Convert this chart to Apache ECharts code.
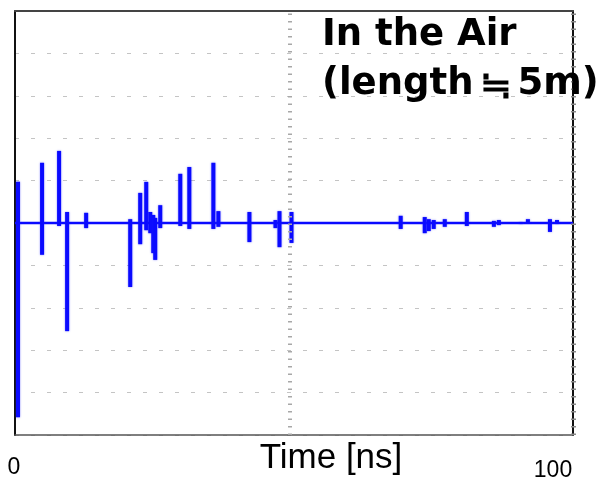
<!DOCTYPE html>
<html>
<head>
<meta charset="utf-8">
<script src="https://cdn.jsdelivr.net/npm/echarts@6/dist/echarts.min.js"></script>
<style>
  html, body { margin: 0; padding: 0; background: #fff; }
  #chart { width: 605px; height: 483px; }
</style>
</head>
<body>
<div id="chart"></div>
<script>
// Pulse times (ns) and the peak excursion of each pulse above / below the zero line
const spikeTimes = [0.54, 4.85, 7.9, 9.34, 12.75, 20.65, 22.44, 23.52, 24.24, 24.78, 25.13, 26.03,
  29.62, 31.24, 35.55, 36.45, 42.01, 46.68, 47.4, 49.55, 69.12, 73.43, 74.15, 75.04, 77.02,
  80.97, 85.82, 86.71, 90.66, 91.92, 95.87, 97.13];
const spikeHigh = [0.97, 1.42, 1.70, 0.26, 0.24, 0.09, 0.71, 0.97, 0.26, 0.19, 0.12, 0.42,
  1.16, 1.32, 1.42, 0.28, 0.26, 0.07, 0.28, 0.26, 0.17, 0.14, 0.09, 0.07, 0.09,
  0.26, 0.05, 0.07, 0.02, 0.09, 0.09, 0.07];
const spikeLow = [-4.58, -0.75, -0.07, -2.55, -0.12, -1.51, -0.50, -0.17, -0.24, -0.71, -0.87, -0.12,
  -0.07, -0.14, -0.14, -0.09, -0.45, -0.12, -0.57, -0.47, -0.14, -0.24, -0.19, -0.14, -0.09,
  -0.07, -0.09, -0.05, -0.02, 0.0, -0.21, -0.02];

const xTickLabels = ['0', '100'];
const xAxisName = 'Time [ns]';
const titleLine1 = 'In the Air';
const titleLine2 = ['(length', '\u2252', '5m)'];

const spikeData = spikeTimes.map((t, i) => [t, spikeHigh[i], spikeLow[i]]);
const BLUE = '#0a0aff';
const TITLE_FONT = { fontFamily: 'DejaVu Sans', fontWeight: 'bold', fontSize: 37, color: '#000' };

const chart = echarts.init(document.getElementById('chart'));
chart.setOption({
  animation: false,
  backgroundColor: '#ffffff',
  grid: { left: 15, right: 32, top: 11, bottom: 48 },
  xAxis: [
    {
      type: 'value', min: 0, max: 100, position: 'bottom',
      axisLine: { show: true, onZero: false, lineStyle: { color: '#555', width: 1.5 } },
      axisTick: { show: false }, axisLabel: { show: false }, splitLine: { show: false }
    },
    {
      type: 'value', min: 0, max: 100, position: 'top',
      axisLine: { show: true, onZero: false, lineStyle: { color: '#444', width: 2 } },
      axisTick: { show: false }, axisLabel: { show: false }, splitLine: { show: false }
    }
  ],
  yAxis: [
    {
      type: 'value', min: -5, max: 5, interval: 1, position: 'left',
      axisLine: { show: true, onZero: false, lineStyle: { color: '#111', width: 2 } },
      axisTick: { show: false }, axisLabel: { show: false },
      splitLine: { show: true, lineStyle: { color: '#c4c4c4', width: 1, type: [4, 12] } }
    },
    {
      type: 'value', min: -5, max: 5, position: 'right',
      axisLine: { show: true, onZero: false, lineStyle: { color: '#111', width: 2 } },
      axisTick: { show: false }, axisLabel: { show: false }, splitLine: { show: false }
    }
  ],
  series: [
    {
      type: 'line',
      data: [[0, 0], [100, 0]],
      showSymbol: false,
      symbol: 'none',
      lineStyle: { color: BLUE, width: 2.5 },
      silent: true,
      z: 3,
      markLine: {
        silent: true,
        symbol: 'none',
        label: { show: false },
        data: [
          { xAxis: 49.2, lineStyle: { color: '#a8a8a8', width: 4, type: [1.5, 6] } },
          { xAxis: 100, lineStyle: { color: '#8a8a8a', width: 5, type: [1.5, 6] } }
        ]
      }
    },
    {
      type: 'custom',
      data: spikeData,
      z: 4,
      silent: true,
      renderItem: function (params, api) {
        const top = api.coord([api.value(0), api.value(1)]);
        const bot = api.coord([api.value(0), api.value(2)]);
        return {
          type: 'line',
          shape: { x1: top[0], y1: top[1], x2: bot[0], y2: bot[1] },
          style: {
            stroke: BLUE, lineWidth: 4, lineCap: 'butt',
            shadowBlur: 2, shadowColor: 'rgba(40,40,255,0.6)'
          }
        };
      }
    }
  ],
  graphic: [
    {
      type: 'text', left: 322, top: 17, z: 10,
      style: { text: titleLine1, fill: '#000', font: 'bold 37px "DejaVu Sans", sans-serif' }
    },
    {
      type: 'text', left: 322, top: 65, z: 10,
      style: {
        text: '{a|' + titleLine2[0] + '}{b|' + titleLine2[1] + '}{a|' + titleLine2[2] + '}',
        rich: {
          a: TITLE_FONT,
          b: { fontFamily: 'Noto Sans CJK JP', fontWeight: 'bold', fontSize: 38, color: '#000', padding: [0, 6, 0, 6] }
        }
      }
    },
    {
      type: 'text', x: 331, y: 458, z: 10,
      style: { text: xAxisName, fill: '#000', font: '35px "Liberation Sans", Arial, sans-serif', textAlign: 'center', textVerticalAlign: 'middle' }
    },
    {
      type: 'text', x: 14, y: 468, z: 10,
      style: { text: xTickLabels[0], fill: '#000', font: '23px "Liberation Sans", Arial, sans-serif', textAlign: 'center', textVerticalAlign: 'middle' }
    },
    {
      type: 'text', x: 553, y: 471, z: 10,
      style: { text: xTickLabels[1], fill: '#000', font: '23px "Liberation Sans", Arial, sans-serif', textAlign: 'center', textVerticalAlign: 'middle' }
    }
  ]
});
</script>
</body>
</html>
